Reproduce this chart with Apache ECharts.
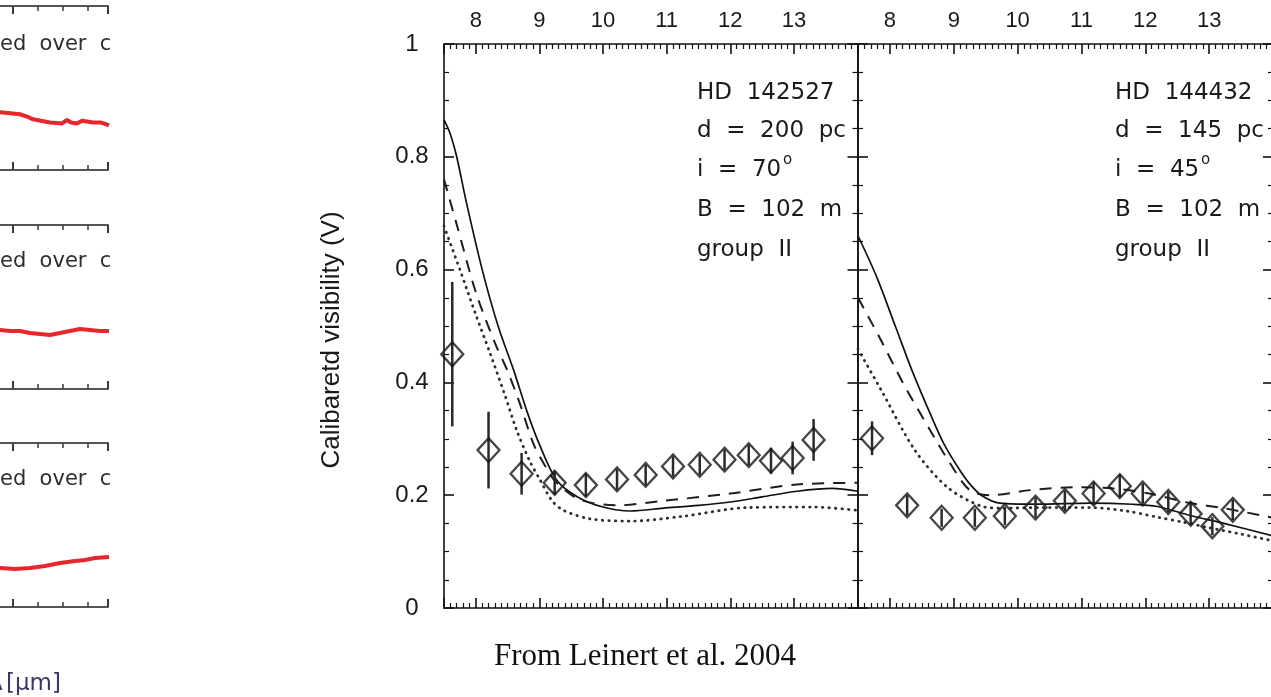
<!DOCTYPE html>
<html><head><meta charset="utf-8">
<script src="https://cdn.jsdelivr.net/npm/echarts@6/dist/echarts.min.js"></script>
<style>html,body{margin:0;padding:0;background:#fff}#c{width:1271px;height:697px}</style>
</head><body><div id="c"></div>
<script>
// ---- tick labels ----
const xTicks = [8, 9, 10, 11, 12, 13];
const xTickLabels = ['8', '9', '10', '11', '12', '13'];
const yTicks = [0, 0.2, 0.4, 0.6, 0.8, 1];
const yTickLabels = ['0', '0.2', '0.4', '0.6', '0.8', '1'];
const yTitle = 'Calibaretd visibility (V)';
const caption = 'From Leinert et al. 2004';

// ---- HD 142527 (left panel) observations ----
const hd142527_wl  = [7.63, 8.20, 8.72, 9.24, 9.73, 10.22, 10.67, 11.10, 11.52, 11.91, 12.29, 12.64, 12.98, 13.31];
const hd142527_vis = [0.450, 0.280, 0.238, 0.222, 0.218, 0.228, 0.236, 0.251, 0.254, 0.263, 0.271, 0.261, 0.266, 0.298];
const hd142527_err = [0.128, 0.068, 0.037, 0.021, 0.020, 0.018, 0.018, 0.018, 0.018, 0.018, 0.018, 0.023, 0.029, 0.037];
// models
const hd142527_solid_x = [7.5, 7.6, 7.7, 7.85, 8.1, 8.35, 8.6, 8.8, 9.0, 9.27, 9.6, 10.0, 10.43, 10.95, 11.5, 12.0, 12.5, 13.05, 13.6, 14.0];
const hd142527_solid_y = [0.866, 0.84, 0.80, 0.72, 0.60, 0.50, 0.42, 0.35, 0.29, 0.227, 0.197, 0.179, 0.172, 0.177, 0.182, 0.188, 0.197, 0.207, 0.212, 0.207];
const hd142527_dash_x = [7.5, 7.7, 8.0, 8.3, 8.5, 8.7, 8.91, 9.1, 9.27, 9.64, 10.22, 10.95, 12.0, 13.05, 14.0];
const hd142527_dash_y = [0.76, 0.68, 0.56, 0.47, 0.42, 0.36, 0.29, 0.25, 0.222, 0.192, 0.182, 0.190, 0.203, 0.219, 0.222];
const hd142527_dot_x = [7.5, 7.75, 8.0, 8.22, 8.45, 8.64, 8.85, 9.01, 9.2, 9.38, 9.8, 10.43, 11.22, 12.27, 13.32, 14.0];
const hd142527_dot_y = [0.677, 0.60, 0.52, 0.453, 0.38, 0.316, 0.26, 0.227, 0.19, 0.173, 0.158, 0.154, 0.162, 0.178, 0.179, 0.173];

// ---- HD 144432 (right panel) observations ----
const hd144432_wl  = [7.72, 8.27, 8.81, 9.33, 9.80, 10.28, 10.74, 11.19, 11.60, 11.96, 12.36, 12.71, 13.05, 13.37];
const hd144432_vis = [0.301, 0.182, 0.160, 0.160, 0.163, 0.178, 0.190, 0.203, 0.216, 0.203, 0.188, 0.167, 0.145, 0.174];
const hd144432_err = [0.030, 0.018, 0.016, 0.016, 0.016, 0.018, 0.018, 0.020, 0.020, 0.018, 0.018, 0.018, 0.016, 0.018];
const hd144432_solid_x = [7.5, 7.8, 8.1, 8.35, 8.625, 8.85, 9.09, 9.25, 9.43, 9.72, 10.3, 11.14, 11.8, 12.19, 12.7, 13.23, 14.0];
const hd144432_solid_y = [0.660, 0.585, 0.495, 0.42, 0.346, 0.29, 0.245, 0.22, 0.200, 0.186, 0.184, 0.186, 0.184, 0.180, 0.164, 0.150, 0.128];
const hd144432_dash_x = [7.5, 7.85, 8.2, 8.625, 8.94, 9.25, 9.58, 10.2, 10.9, 11.5, 12.06, 12.7, 13.23, 14.0];
const hd144432_dash_y = [0.550, 0.477, 0.40, 0.316, 0.257, 0.209, 0.200, 0.209, 0.214, 0.212, 0.203, 0.186, 0.177, 0.160];
const hd144432_dot_x = [7.5, 7.86, 8.39, 8.9, 9.42, 9.74, 10.4, 11.14, 11.7, 12.19, 12.6, 12.97, 13.5, 14.0];
const hd144432_dot_y = [0.459, 0.387, 0.28, 0.214, 0.181, 0.177, 0.178, 0.178, 0.172, 0.161, 0.152, 0.143, 0.131, 0.119];

// ---- cropped neighbouring figure (left edge) ----
const miniA_x = [3.80, 3.87, 3.95, 4.02, 4.07, 4.14, 4.20, 4.28, 4.37, 4.44, 4.49, 4.54, 4.58, 4.64, 4.69, 4.74, 4.80, 4.87, 4.92, 4.96];
const miniA_y = [0.355, 0.352, 0.348, 0.343, 0.340, 0.326, 0.309, 0.300, 0.290, 0.286, 0.284, 0.305, 0.290, 0.284, 0.300, 0.296, 0.290, 0.290, 0.282, 0.272];
const miniB_x = [3.80, 3.87, 3.97, 4.07, 4.17, 4.27, 4.37, 4.47, 4.57, 4.67, 4.77, 4.87, 4.96];
const miniB_y = [0.360, 0.360, 0.354, 0.354, 0.341, 0.335, 0.329, 0.341, 0.354, 0.366, 0.360, 0.354, 0.354];
const miniC_x = [3.80, 3.87, 4.02, 4.17, 4.32, 4.47, 4.62, 4.72, 4.82, 4.96];
const miniC_y = [0.238, 0.238, 0.232, 0.238, 0.250, 0.268, 0.280, 0.287, 0.299, 0.305];

const zip = (a, b) => a.map((v, i) => [v, b[i]]);

const AX = '#111';
function xAx(grid, pos, labels) {
  return {
    type: 'value', gridIndex: grid, position: pos, min: 7.5, max: 14, splitNumber: 6,
    axisLine: { show: true, onZero: false, lineStyle: { color: AX, width: 1.6 } },
    axisTick: { show: true, inside: true, length: 10, lineStyle: { color: AX, width: 1.6 } },
    minorTick: { show: true, splitNumber: 10, length: 5, lineStyle: { color: AX, width: 1.2 } },
    splitLine: { show: false }, minorSplitLine: { show: false },
    axisLabel: {
      show: labels, margin: 12, fontSize: 22, fontFamily: 'Liberation Sans', color: '#1a1a1a',
      formatter: v => { const i = xTicks.indexOf(v); return i >= 0 ? xTickLabels[i] : ''; }
    }
  };
}
function yAx(grid, pos, labels) {
  return {
    type: 'value', gridIndex: grid, position: pos, min: 0, max: 1, interval: 0.2,
    axisLine: { show: true, onZero: false, lineStyle: { color: AX, width: 1.6 } },
    axisTick: { show: true, inside: true, length: 10, lineStyle: { color: AX, width: 1.6 } },
    minorTick: { show: true, splitNumber: 4, length: 5, lineStyle: { color: AX, width: 1.2 } },
    splitLine: { show: false }, minorSplitLine: { show: false },
    axisLabel: {
      show: labels, align: 'center', margin: 32, fontSize: 24, fontFamily: 'Liberation Sans', color: '#1a1a1a',
      formatter: v => { const i = yTicks.findIndex(t => Math.abs(t - v) < 1e-6); return i >= 0 ? yTickLabels[i] : ''; }
    }
  };
}
function miniX(grid, pos) {
  return {
    type: 'value', gridIndex: grid, position: pos, min: 0, max: 4.95, interval: 1,
    axisLine: { show: true, onZero: false, lineStyle: { color: '#555', width: 2 } },
    axisTick: { show: true, inside: true, length: 8, lineStyle: { color: '#3a3a3a', width: 2 } },
    minorTick: { show: true, splitNumber: 4, length: 5, lineStyle: { color: '#3a3a3a', width: 1.5 } },
    axisLabel: { show: false }, splitLine: { show: false }, minorSplitLine: { show: false }
  };
}
function miniY(grid) {
  return { type: 'value', gridIndex: grid, min: 0, max: 1, show: false, splitLine: { show: false } };
}
function errSeries(xi, yi, wl, vis, err) {
  return {
    type: 'custom', xAxisIndex: xi, yAxisIndex: yi, z: 3,
    data: wl.map((x, i) => [x, vis[i] - err[i], vis[i] + err[i]]),
    encode: { x: 0, y: [1, 2] },
    renderItem: (params, api) => {
      const p1 = api.coord([api.value(0), api.value(1)]);
      const p2 = api.coord([api.value(0), api.value(2)]);
      return { type: 'line', shape: { x1: p1[0], y1: p1[1], x2: p2[0], y2: p2[1] },
               style: { stroke: '#2a2a2a', lineWidth: 2.5 } };
    }
  };
}
function diamonds(xi, yi, wl, vis) {
  return {
    type: 'scatter', xAxisIndex: xi, yAxisIndex: yi, z: 4, data: zip(wl, vis),
    symbol: 'diamond', symbolSize: [22, 24],
    itemStyle: { color: 'rgba(255,255,255,0)', borderColor: '#161616', borderWidth: 2.3 }
  };
}
function model(xi, yi, xs, ys, kind) {
  const ls = kind === 'solid' ? { color: '#111', width: 1.7, type: 'solid' }
           : kind === 'dash' ? { color: '#1e1e1e', width: 2, type: [12, 9] }
           : { color: '#2e2e2e', width: 2.8, type: [0.5, 6], cap: 'round' };
  return { type: 'line', xAxisIndex: xi, yAxisIndex: yi, data: zip(xs, ys), showSymbol: false, symbol: 'none',
           smooth: 0.3, lineStyle: ls, z: 2 };
}
function red(xi, yi, xs, ys) {
  return { type: 'line', xAxisIndex: xi, yAxisIndex: yi, data: zip(xs, ys), symbol: 'none',
           lineStyle: { color: '#e8262b', width: 4 }, z: 2 };
}
function txt(x, y, s, size, fill, align) {
  return { type: 'text', x: x, y: y, z: 10,
    style: { text: s, fontSize: size || 23, fontFamily: 'DejaVu Sans', fill: fill || '#1a1a1a',
             textAlign: align || 'left', align: align || 'left', textVerticalAlign: 'middle', verticalAlign: 'middle' } };
}
function annot(x, lines) {
  const ys = [93, 131, 170, 210, 250];
  const out = lines.map((s, i) => txt(x, ys[i], s));
  out.push(txt(x + 86, 160, 'o', 15));
  return out;
}

const G = { containLabel: false, outerBoundsMode: 'none' };
const option = {
  animation: false,
  backgroundColor: '#fff',
  grid: [
    Object.assign({ left: 444, top: 44, width: 413.5, height: 564 }, G),
    Object.assign({ left: 858, top: 44, width: 415, height: 564 }, G),
    Object.assign({ left: -387, top: 6, width: 495, height: 164 }, G),
    Object.assign({ left: -387, top: 225, width: 495, height: 164 }, G),
    Object.assign({ left: -387, top: 443, width: 495, height: 164 }, G)
  ],
  xAxis: [
    xAx(0, 'bottom', false), xAx(0, 'top', true),
    xAx(1, 'bottom', false), xAx(1, 'top', true),
    miniX(2, 'bottom'), miniX(2, 'top'),
    miniX(3, 'bottom'), miniX(3, 'top'),
    miniX(4, 'bottom'), miniX(4, 'top')
  ],
  yAxis: [
    yAx(0, 'left', true), yAx(0, 'right', false),
    yAx(1, 'left', false), yAx(1, 'right', false),
    miniY(2), miniY(3), miniY(4)
  ],
  series: [
    model(0, 0, hd142527_solid_x, hd142527_solid_y, 'solid'),
    model(0, 0, hd142527_dash_x, hd142527_dash_y, 'dash'),
    model(0, 0, hd142527_dot_x, hd142527_dot_y, 'dot'),
    errSeries(0, 0, hd142527_wl, hd142527_vis, hd142527_err),
    diamonds(0, 0, hd142527_wl, hd142527_vis),
    model(2, 2, hd144432_solid_x, hd144432_solid_y, 'solid'),
    model(2, 2, hd144432_dash_x, hd144432_dash_y, 'dash'),
    model(2, 2, hd144432_dot_x, hd144432_dot_y, 'dot'),
    errSeries(2, 2, hd144432_wl, hd144432_vis, hd144432_err),
    diamonds(2, 2, hd144432_wl, hd144432_vis),
    red(4, 4, miniA_x, miniA_y),
    red(6, 5, miniB_x, miniB_y),
    red(8, 6, miniC_x, miniC_y)
  ],
  graphic: [].concat(
    annot(697, ['HD  142527', 'd  =  200  pc', 'i  =  70', 'B  =  102  m', 'group  II']),
    annot(1115, ['HD  144432', 'd  =  145  pc', 'i  =  45', 'B  =  102  m', 'group  II']),
    [
      { type: 'text', x: 332, y: 340, rotation: Math.PI / 2, z: 10,
        style: { text: yTitle, fontSize: 26, fontFamily: 'Liberation Sans', fill: '#1a1a1a',
                 textAlign: 'center', align: 'center', textVerticalAlign: 'middle', verticalAlign: 'middle' } },
      txt(0, 45, 'ed  over  c', 21, '#2e2e2e'),
      txt(0, 262, 'ed  over  c', 21, '#2e2e2e'),
      txt(0, 480, 'ed  over  c', 21, '#2e2e2e'),
      { type: 'text', x: 645, y: 657, z: 10,
        style: { text: caption, fontSize: 31, fontFamily: 'Liberation Serif', fill: '#111',
                 textAlign: 'center', align: 'center', textVerticalAlign: 'middle', verticalAlign: 'middle' } },
      txt(3, 684, 'λ', 23, '#3a3868', 'right'),
      txt(6, 684, '[µm]', 23, '#3a3868', 'left')
    ]
  )
};

const chart = echarts.init(document.getElementById('c'), null, { renderer: 'canvas' });
chart.setOption(option);
</script>
</body></html>
